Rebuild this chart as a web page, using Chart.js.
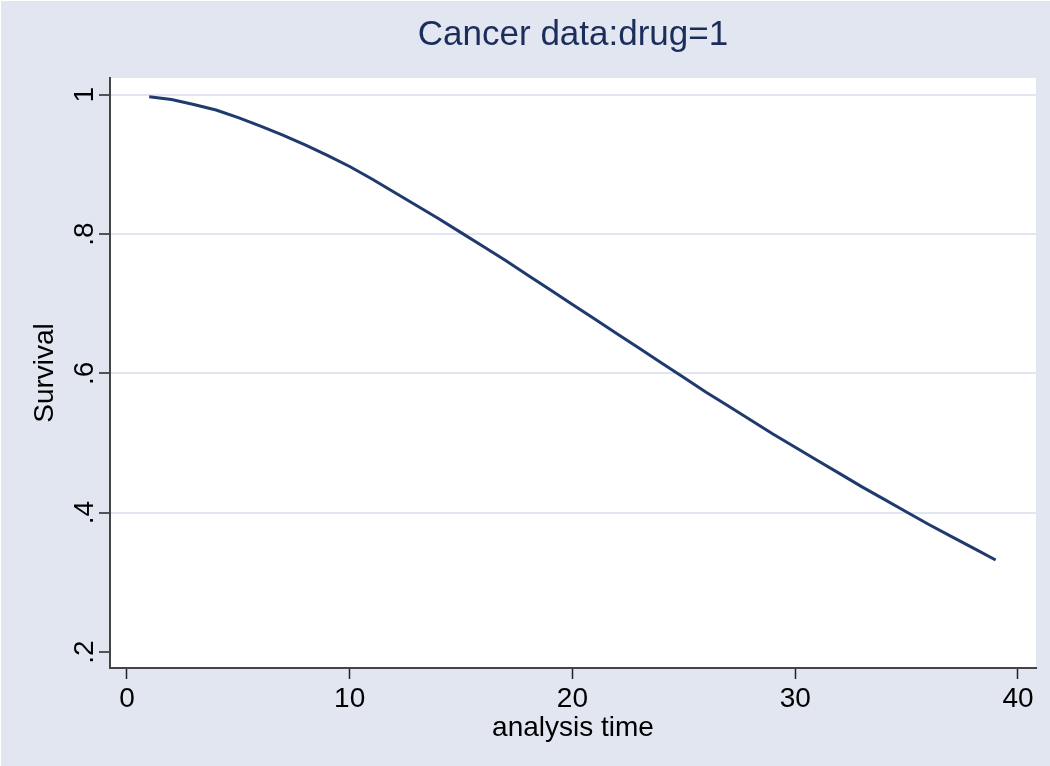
<!DOCTYPE html>
<html>
<head>
<meta charset="utf-8">
<script src="https://cdn.jsdelivr.net/npm/chart.js@4/dist/chart.umd.min.js"></script>
<style>
  html, body { margin: 0; padding: 0; background: #ffffff; }
  #wrap { position: absolute; left: 1px; top: 1px; width: 1049px; height: 765px; background: #e2e6f1; }
</style>
</head>
<body>
<div id="wrap"><canvas id="survChart"></canvas></div>
<script>
// tempo de análise e sobrevivência estimada
const tempos = [1, 2, 3, 4, 5, 6, 7, 8, 9, 10, 11, 12, 13, 14, 15, 16, 17, 18, 19, 20,
                21, 22, 23, 24, 25, 26, 27, 28, 29, 30, 31, 32, 33, 34, 35, 36, 37, 38, 39];
const sobrevivencia = [0.997, 0.993, 0.986, 0.978, 0.967, 0.955, 0.942, 0.928, 0.913, 0.897,
                       0.879, 0.860, 0.841, 0.822, 0.802, 0.782, 0.762, 0.741, 0.720, 0.699,
                       0.678, 0.657, 0.636, 0.615, 0.594, 0.573, 0.553, 0.533, 0.513, 0.494,
                       0.475, 0.456, 0.437, 0.419, 0.401, 0.383, 0.366, 0.349, 0.332];

// marcas dos eixos
const xTicks = [0, 10, 20, 30, 40];
const xTickLabels = ['0', '10', '20', '30', '40'];
const yTicks = [0.2, 0.4, 0.6, 0.8, 1];
const yTickLabels = ['.2', '.4', '.6', '.8', '1'];

const fonte = '"Liberation Sans", Arial, Helvetica, sans-serif';
const corGrade = '#e1e6f0';

// fundo branco só na área do gráfico
const plotBg = {
    id: 'plotBg',
    beforeDraw(chart) {
        const a = chart.chartArea;
        const ctx = chart.ctx;
        ctx.save();
        ctx.fillStyle = '#ffffff';
        ctx.fillRect(a.left, a.top, a.right - a.left, a.bottom - a.top);
        ctx.restore();
    }
};

const ctx = document.getElementById('survChart').getContext('2d');

const myChart = new Chart(ctx, {
    type: 'line',
    data: {
        datasets: [{
            label: 'Survival',
            data: tempos.map((t, i) => ({ x: t, y: sobrevivencia[i] })),
            borderColor: '#1f3a6e',
            borderWidth: 3,
            pointRadius: 0,
            tension: 0,
            fill: false
        }]
    },
    options: {
        responsive: true,
        maintainAspectRatio: false,
        animation: false,
        layout: { padding: { left: 0, right: 14, top: 0, bottom: 0 } },
        plugins: {
            legend: { display: false },
            tooltip: { enabled: false },
            title: {
                display: true,
                fullSize: false,
                text: 'Cancer data:drug=1',
                color: '#1b2d5a',
                font: { family: fonte, size: 35, weight: 'normal' },
                padding: { top: 13, bottom: 22 }
            }
        },
        scales: {
            x: {
                type: 'linear',
                min: -0.76,
                max: 40.81,
                afterBuildTicks: (scale) => { scale.ticks = xTicks.map(v => ({ value: v })); },
                afterFit: (scale) => { scale.height = 98; },
                grid: {
                    drawOnChartArea: false,
                    drawTicks: true,
                    tickLength: 11,
                    tickColor: '#222222',
                    tickWidth: 1.5
                },
                border: { display: true, color: '#444444', width: 2 },
                ticks: {
                    autoSkip: false,
                    maxRotation: 0,
                    padding: 3,
                    color: '#000000',
                    font: { family: fonte, size: 28 },
                    callback: (value) => xTickLabels[xTicks.indexOf(value)]
                },
                title: {
                    display: true,
                    text: 'analysis time',
                    color: '#000000',
                    font: { family: fonte, size: 28 },
                    padding: { top: 0, bottom: 21 }
                }
            },
            y: {
                type: 'linear',
                min: 0.177,
                max: 1.024,
                afterBuildTicks: (scale) => { scale.ticks = yTicks.map(v => ({ value: v })); },
                afterFit: (scale) => { scale.width = 109; },
                grid: {
                    drawOnChartArea: true,
                    color: (c) => (c.tick && c.tick.value === 0.2) ? 'rgba(0,0,0,0)' : corGrade,
                    lineWidth: 2,
                    drawTicks: true,
                    tickLength: 11,
                    tickColor: '#222222',
                    tickWidth: 1.5
                },
                border: { display: true, color: '#444444', width: 2 },
                ticks: {
                    autoSkip: false,
                    minRotation: 90,
                    maxRotation: 90,
                    crossAlign: 'center',
                    padding: 2,
                    color: '#000000',
                    font: { family: fonte, size: 28 },
                    callback: (value) => yTickLabels[yTicks.indexOf(value)]
                },
                title: {
                    display: true,
                    text: 'Survival',
                    color: '#000000',
                    font: { family: fonte, size: 28 },
                    padding: { top: 27, bottom: 0 }
                }
            }
        }
    },
    plugins: [plotBg]
});
</script>
</body>
</html>
